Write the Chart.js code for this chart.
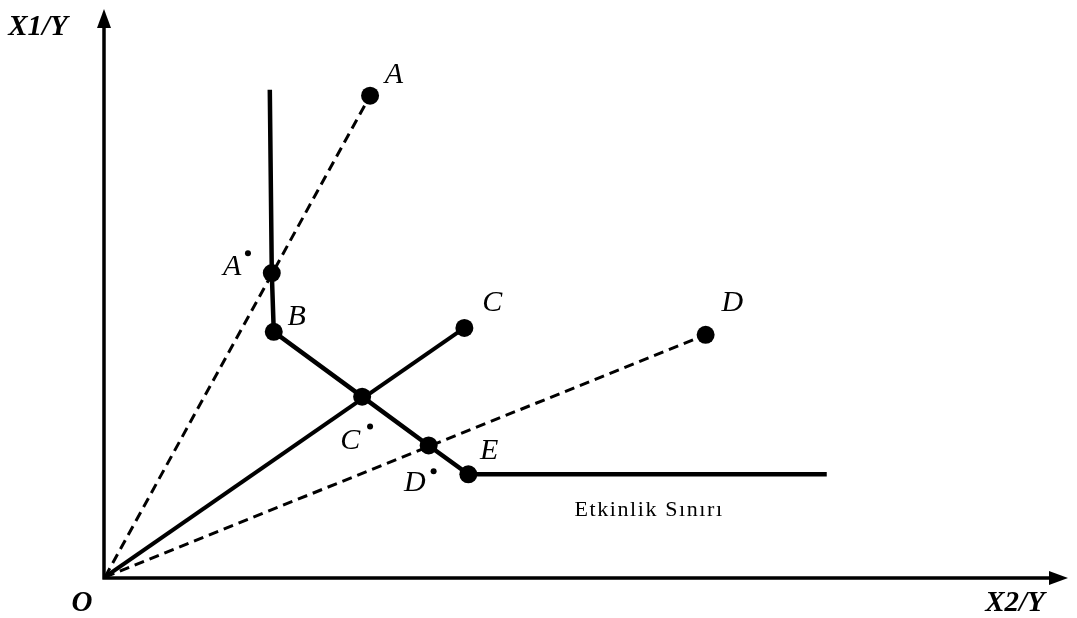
<!DOCTYPE html>
<html>
<head>
<meta charset="utf-8">
<script src="https://cdn.jsdelivr.net/npm/chart.js@4.4.1/dist/chart.umd.min.js"></script>
<style>
  html, body { margin: 0; padding: 0; background: #fff; }
  canvas { display: block; }
</style>
</head>
<body>
<canvas id="myChart" width="1077" height="618"></canvas>
<script>
// values, origin O = (0, 0)
const frontierX = [166, 168, 170, 259, 326, 366, 727];
const frontierY = [489, 305, 246, 181, 132, 103, 103];
const frontierDots = [0, 9, 9, 9, 9, 9, 0];

const rayA = [[0, 0], [267, 483]];
const rayC = [[0, 0], [362, 250]];
const rayD = [[0, 0], [605, 243]];

// small marks next to A', C', D'
const primeX = [144, 267, 331];
const primeY = [325, 151, 106];

// point labels: text, x, y
const labelText = ['A', 'B', 'C', 'D', 'E', 'A', 'C', 'D'];
const labelX = [291, 193, 390, 632, 387, 128, 247, 312];
const labelY = [504, 261, 275, 275, 126, 311, 136, 94];

const xMax = 970;
const yMax = 570;

function toPts(xs, ys) {
    return xs.map((x, i) => ({x: x, y: ys[i]}));
}
function pairPts(p) {
    return p.map(v => ({x: v[0], y: v[1]}));
}

// axes with arrowheads + all text
const decorPlugin = {
    id: 'decor',
    afterDatasetsDraw(chart) {
        const ctx = chart.ctx;
        const sx = chart.scales.x, sy = chart.scales.y;
        const ox = sx.getPixelForValue(0) - 1, oy = sy.getPixelForValue(0) + 1;
        const xEnd = sx.getPixelForValue(xMax), yEnd = sy.getPixelForValue(yMax);
        ctx.save();
        ctx.strokeStyle = '#000';
        ctx.fillStyle = '#000';
        ctx.lineWidth = 3.5;
        ctx.beginPath();
        ctx.moveTo(ox, oy + 1.5);
        ctx.lineTo(ox, yEnd + 14);
        ctx.moveTo(ox - 1.5, oy);
        ctx.lineTo(xEnd - 14, oy);
        ctx.stroke();
        ctx.beginPath();
        ctx.moveTo(ox, yEnd);
        ctx.lineTo(ox - 7, yEnd + 19);
        ctx.lineTo(ox + 7, yEnd + 19);
        ctx.closePath();
        ctx.fill();
        ctx.beginPath();
        ctx.moveTo(xEnd, oy);
        ctx.lineTo(xEnd - 19, oy - 7);
        ctx.lineTo(xEnd - 19, oy + 7);
        ctx.closePath();
        ctx.fill();

        ctx.textAlign = 'center';
        ctx.textBaseline = 'middle';
        ctx.font = 'italic 30px "Liberation Serif"';
        labelText.forEach((t, i) => {
            ctx.fillText(t, sx.getPixelForValue(labelX[i]), sy.getPixelForValue(labelY[i]));
        });
        ctx.font = 'bold italic 29px "Liberation Serif"';
        ctx.fillText('X1/Y', 38, 28);
        ctx.fillText('X2/Y', 1015, 604);
        ctx.fillText('O', 82, 604);
        ctx.font = '22px "Liberation Serif"';
        ctx.letterSpacing = '1.6px';
        ctx.fillText('Etkinlik Sınırı', sx.getPixelForValue(548), sy.getPixelForValue(67));
        ctx.restore();
    }
};

const ctx = document.getElementById('myChart');
const myChart = new Chart(ctx, {
    type: 'scatter',
    data: {
        datasets: [
            {data: pairPts(rayA), showLine: true, borderColor: '#000', borderWidth: 3,
                borderDash: [10, 6], pointRadius: [0, 9], pointBackgroundColor: '#000', pointBorderWidth: 0},
            {data: pairPts(rayD), showLine: true, borderColor: '#000', borderWidth: 3,
                borderDash: [10, 6], pointRadius: [0, 9], pointBackgroundColor: '#000', pointBorderWidth: 0},
            {data: pairPts(rayC), showLine: true, borderColor: '#000', borderWidth: 4,
                pointRadius: [0, 9], pointBackgroundColor: '#000', pointBorderWidth: 0},
            {data: toPts(frontierX, frontierY), showLine: true, borderColor: '#000', borderWidth: 4.5,
                pointRadius: frontierDots, pointBackgroundColor: '#000', pointBorderWidth: 0},
            {data: toPts(primeX, primeY), showLine: false,
                pointRadius: 3, pointBackgroundColor: '#000', pointBorderWidth: 0}
        ]
    },
    options: {
        responsive: false,
        animation: false,
        layout: {padding: {left: 105, right: 2, top: 7, bottom: 41}},
        plugins: {legend: {display: false}, tooltip: {enabled: false}},
        scales: {
            x: {type: 'linear', min: 0, max: xMax, display: false},
            y: {type: 'linear', min: 0, max: yMax, display: false}
        }
    },
    plugins: [decorPlugin]
});
</script>
</body>
</html>
